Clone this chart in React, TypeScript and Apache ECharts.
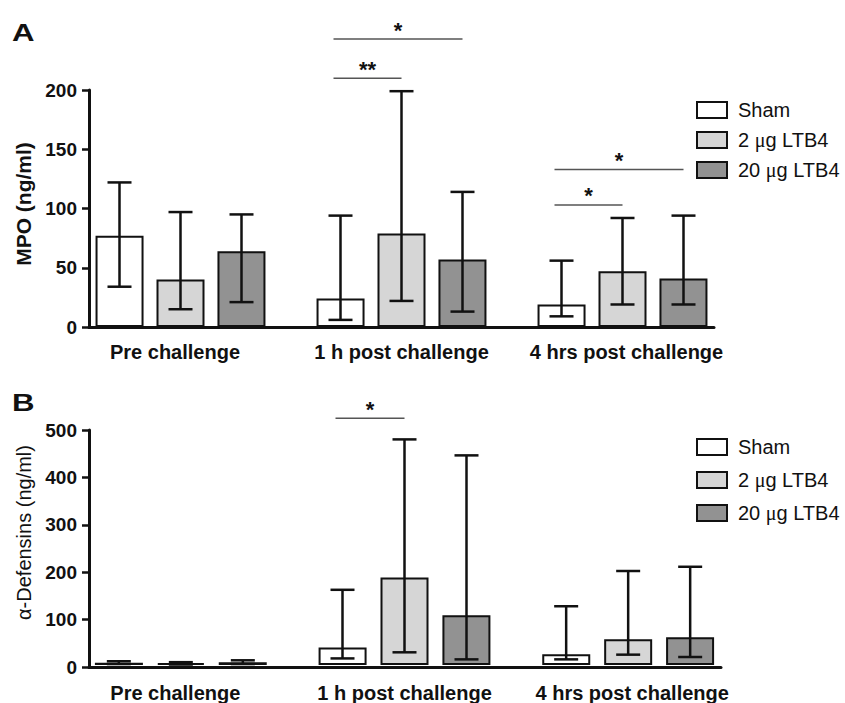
import React, { useEffect, useRef } from 'react';
import * as echarts from 'echarts';

const categories = ['Pre challenge', '1 h post challenge', '4 hrs post challenge'];
const groupNames = ['Sham', '2 μg LTB4', '20 μg LTB4'];
const groupColors = ['#ffffff', '#d6d6d6', '#929292'];

// Panel A: MPO (ng/ml)
const mpoTicks = [0, 50, 100, 150, 200];
const mpoSham = [77, 24, 19];
const mpoShamLow = [34, 6, 9];
const mpoShamHigh = [122, 94, 56];
const mpoLtb2 = [40, 79, 47];
const mpoLtb2Low = [15, 22, 19];
const mpoLtb2High = [97, 199, 92];
const mpoLtb20 = [64, 57, 41];
const mpoLtb20Low = [21, 13, 19];
const mpoLtb20High = [95, 114, 94];
const mpoSigCategory = [1, 1, 2, 2];
const mpoSigLevel = [243, 210, 133, 103];
const mpoSigTo = [2, 1, 2, 1];
const mpoSigLabel = ['*', '**', '*', '*'];

// Panel B: alpha-Defensins (ng/ml)
const defTicks = [0, 100, 200, 300, 400, 500];
const defSham = [5, 37, 23];
const defShamLow = [2, 14, 12];
const defShamHigh = [8, 160, 125];
const defLtb2 = [4, 186, 55];
const defLtb2Low = [1, 27, 22];
const defLtb2High = [6, 480, 200];
const defLtb20 = [6, 106, 59];
const defLtb20Low = [2, 12, 17];
const defLtb20High = [10, 446, 209];
const defSigCategory = [1];
const defSigLevel = [525];
const defSigTo = [1];
const defSigLabel = ['*'];

const FONT = '"Liberation Sans", Arial, Helvetica, sans-serif';
const INK = '#111111';

type Panel = {
  ticks: number[];
  means: number[][];
  lows: number[][];
  highs: number[][];
  sigCat: number[];
  sigLevel: number[];
  sigTo: number[];
  sigLabel: string[];
  name: string;
  nameBold: boolean;
  namePad: number;
  barGrid: any;
  axisGrid: any;
  step: number;
  labelMargin: number;
  legendTop: number;
  legendGap: number;
};

const panels: Panel[] = [
  {
    ticks: mpoTicks,
    means: [mpoSham, mpoLtb2, mpoLtb20],
    lows: [mpoShamLow, mpoLtb2Low, mpoLtb20Low],
    highs: [mpoShamHigh, mpoLtb2High, mpoLtb20High],
    sigCat: mpoSigCategory,
    sigLevel: mpoSigLevel,
    sigTo: mpoSigTo,
    sigLabel: mpoSigLabel,
    name: 'MPO (ng/ml)',
    nameBold: true,
    namePad: 9,
    barGrid: { left: 70, top: 90, width: 663, height: 237 },
    axisGrid: { left: 89, top: 90, width: 625, height: 237 },
    step: 61,
    labelMargin: 15,
    legendTop: 95,
    legendGap: 10,
  },
  {
    ticks: defTicks,
    means: [defSham, defLtb2, defLtb20],
    lows: [defShamLow, defLtb2Low, defLtb20Low],
    highs: [defShamHigh, defLtb2High, defLtb20High],
    sigCat: defSigCategory,
    sigLevel: defSigLevel,
    sigTo: defSigTo,
    sigLabel: defSigLabel,
    name: 'α-Defensins (ng/ml)',
    nameBold: false,
    namePad: 32,
    barGrid: { left: 69, top: 430, width: 671, height: 237 },
    axisGrid: { left: 89, top: 430, width: 632, height: 237 },
    step: 62,
    labelMargin: 18,
    legendTop: 432,
    legendGap: 13,
  },
];

const BAR_W = 48;

function buildOption() {
  const grid: any[] = [];
  const xAxis: any[] = [];
  const yAxis: any[] = [];
  const series: any[] = [];
  const legend: any[] = [];

  panels.forEach((p, pi) => {
    const gBar = pi * 2;
    const gAxis = pi * 2 + 1;
    const min = p.ticks[0];
    const max = p.ticks[p.ticks.length - 1];
    const interval = p.ticks[1] - p.ticks[0];
    grid.push({ ...p.barGrid, containLabel: false });
    grid.push({ ...p.axisGrid, containLabel: false });

    const labelStyle = { fontFamily: FONT, fontWeight: 'bold', fontSize: 20, color: INK };
    xAxis.push({
      type: 'category',
      gridIndex: gBar,
      data: categories,
      axisLine: { show: false },
      axisTick: { show: false },
      axisLabel: {
        margin: p.labelMargin,
        ...labelStyle,
        interval: 0,
        formatter: (v: string, i: number) => (i === 0 ? `{l|${v}}` : i === 2 ? `{r|${v}}` : `{c|${v}}`),
        rich: {
          l: { ...labelStyle, padding: [0, 11, 0, 0] },
          c: { ...labelStyle },
          r: { ...labelStyle, padding: [0, 0, 0, 8] },
        },
      },
    });
    xAxis.push({
      type: 'value',
      gridIndex: gAxis,
      min: 0,
      max: 1,
      axisLine: { show: true, lineStyle: { color: INK, width: 3 } },
      axisTick: { show: false },
      axisLabel: { show: false },
      splitLine: { show: false },
    });
    yAxis.push({
      type: 'value',
      gridIndex: gBar,
      min,
      max,
      interval,
      show: false,
      splitLine: { show: false },
    });
    yAxis.push({
      type: 'value',
      gridIndex: gAxis,
      min,
      max,
      interval,
      name: p.name,
      nameLocation: 'middle',
      nameGap: 52,
      nameRotate: 90,
      nameTextStyle: {
        fontFamily: FONT,
        fontWeight: p.nameBold ? 'bold' : 'normal',
        fontSize: p.nameBold ? 21 : 20,
        color: INK,
        padding: [0, 0, 0, p.namePad],
      },
      axisLine: { show: true, lineStyle: { color: INK, width: 3 } },
      axisTick: { show: true, length: 7, lineStyle: { color: INK, width: 2.5 } },
      axisLabel: {
        margin: 12,
        fontFamily: FONT,
        fontWeight: 'bold',
        fontSize: 19,
        color: INK,
      },
      splitLine: { show: false },
    });

    const barGap = `${Math.round(((p.step - BAR_W) / BAR_W) * 100)}%`;
    groupNames.forEach((gname, gi) => {
      series.push({
        type: 'bar',
        name: gname,
        xAxisIndex: gBar,
        yAxisIndex: gBar,
        data: p.means[gi],
        barWidth: BAR_W,
        barGap,
        itemStyle: { color: groupColors[gi], borderColor: INK, borderWidth: 2 },
        z: 2,
      });
    });
    groupNames.forEach((gname, gi) => {
      const off = (gi - 1) * p.step;
      series.push({
        type: 'custom',
        name: `err-${pi}-${gi}`,
        xAxisIndex: gBar,
        yAxisIndex: gBar,
        clip: false,
        z: 5,
        encode: { x: 0, y: [1, 2] },
        data: categories.map((_, ci) => [ci, p.lows[gi][ci], p.highs[gi][ci]]),
        renderItem: (params: any, api: any) => {
          const lo = api.coord([api.value(0), api.value(1)]);
          const hi = api.coord([api.value(0), api.value(2)]);
          const cx = lo[0] + off;
          const style = { stroke: INK, lineWidth: 2.5 };
          return {
            type: 'group',
            children: [
              { type: 'line', shape: { x1: cx, y1: lo[1], x2: cx, y2: hi[1] }, style },
              { type: 'line', shape: { x1: cx - 12, y1: hi[1], x2: cx + 12, y2: hi[1] }, style },
              { type: 'line', shape: { x1: cx - 12, y1: lo[1], x2: cx + 12, y2: lo[1] }, style },
            ],
          };
        },
      });
    });
    series.push({
      type: 'custom',
      name: `sig-${pi}`,
      xAxisIndex: gBar,
      yAxisIndex: gBar,
      clip: false,
      z: 6,
      encode: { x: 0, y: 1 },
      data: p.sigCat.map((c, i) => [c, p.sigLevel[i], p.sigTo[i]]),
      renderItem: (params: any, api: any) => {
        const pt = api.coord([api.value(0), api.value(1)]);
        const toG = api.value(2);
        const x1 = pt[0] - p.step - 7;
        const x2 = pt[0] + (toG - 1) * p.step;
        const y = pt[1];
        return {
          type: 'group',
          children: [
            { type: 'line', shape: { x1, y1: y, x2, y2: y }, style: { stroke: '#555555', lineWidth: 1.5 } },
            {
              type: 'text',
              style: {
                text: p.sigLabel[params.dataIndex],
                x: (x1 + x2) / 2,
                y: y - 9,
                align: 'center',
                verticalAlign: 'middle',
                fontFamily: FONT,
                fontWeight: 'bold',
                fontSize: 22,
                fill: INK,
              },
            },
          ],
        };
      },
    });

    legend.push({
      data: groupNames,
      orient: 'vertical',
      left: 691,
      top: p.legendTop,
      itemWidth: 30,
      itemHeight: 16,
      itemGap: p.legendGap,
      icon: 'rect',
      selectedMode: false,
      itemStyle: { borderColor: INK, borderWidth: 2 },
      formatter: (n: string) => n.replace('μ', '{m|μ}'),
      textStyle: {
        fontFamily: FONT,
        fontSize: 20,
        color: INK,
        padding: [0, 0, 0, 6],
        rich: { m: { fontFamily: '"Liberation Serif", serif', fontSize: 20, color: INK } },
      },
    });
  });

  return {
    animation: false,
    backgroundColor: '#ffffff',
    grid,
    xAxis,
    yAxis,
    series,
    legend,
    graphic: [
      {
        type: 'text',
        x: 12,
        y: 21,
        scaleX: 1.3,
        style: { text: 'A', fontFamily: FONT, fontWeight: 'bold', fontSize: 24, fill: INK, verticalAlign: 'top' },
      },
      {
        type: 'text',
        x: 12,
        y: 391,
        scaleX: 1.3,
        style: { text: 'B', fontFamily: FONT, fontWeight: 'bold', fontSize: 24, fill: INK, verticalAlign: 'top' },
      },
    ],
  };
}

export default function App() {
  const ref = useRef<HTMLDivElement>(null);
  useEffect(() => {
    if (!ref.current) return;
    const chart = echarts.init(ref.current, undefined, { renderer: 'svg' });
    chart.setOption(buildOption() as any);
    return () => chart.dispose();
  }, []);
  return (
    <div
      ref={ref}
      style={{ position: 'fixed', left: 0, top: 0, width: 845, height: 703, background: '#fff' }}
    />
  );
}
